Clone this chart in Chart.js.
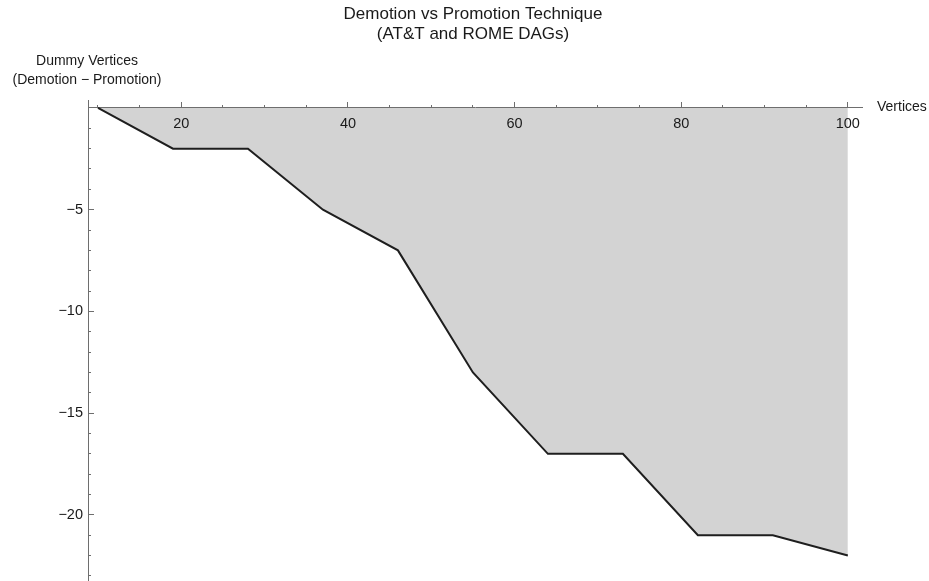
<!DOCTYPE html>
<html lang="en">
<head>
    <meta charset="UTF-8">
    <title>Demotion vs Promotion Technique</title>
    <script src="https://cdn.jsdelivr.net/npm/chart.js"></script>
    <style>
        body {
            margin: 0;
            background: white;
        }
        .chart-box {
            width: 929px;
            height: 581px;
        }
    </style>
</head>
<body>
    <div class="chart-box">
        <canvas id="plot"></canvas>
    </div>

    <script>
        // data
        const vertices = [10, 19, 28, 37, 46, 55, 64, 73, 82, 91, 100];
        const dummyDiff = [0, -2, -2, -5, -7, -13, -17, -17, -21, -21, -22];

        const xMajorTicks = [20, 40, 60, 80, 100];
        const xMinorTicks = [10, 15, 20, 25, 30, 35, 40, 45, 50, 55, 60, 65, 70, 75, 80, 85, 90, 95, 100];
        const yMajorTicks = [-5, -10, -15, -20];
        const yMinorTicks = [-1, -2, -3, -4, -5, -6, -7, -8, -9, -10, -11, -12, -13, -14, -15, -16, -17, -18, -19, -20, -21, -22, -23];

        const titleLines = ['Demotion vs Promotion Technique', '(AT&T and ROME DAGs)'];
        const yLabelLines = ['Dummy Vertices', '(Demotion \u2212 Promotion)'];
        const xLabel = 'Vertices';

        const X_MIN = 8.8, X_MAX = 101.7;
        const Y_MIN = -23.2, Y_MAX = 0.39;
        const AXIS_COLOR = '#6e6e6e';
        const TEXT_COLOR = '#1a1a1a';
        const FONT = 'Liberation Sans, Arial, sans-serif';

        const fixTicks = list => scale => {
            scale.ticks = list.map(v => ({ value: v }));
        };

        // titles and axis labels, Mathematica style
        const labelsPlugin = {
            id: 'labels',
            afterDraw(chart) {
                const ctx = chart.ctx;
                const xs = chart.scales.x;
                ctx.save();
                ctx.fillStyle = TEXT_COLOR;
                ctx.textBaseline = 'alphabetic';
                ctx.textAlign = 'center';
                ctx.font = '17px ' + FONT;
                ctx.fillText(titleLines[0], 473, 19);
                ctx.fillText(titleLines[1], 473, 39);

                ctx.font = '14px ' + FONT;
                ctx.fillText(yLabelLines[0], 87, 65);
                ctx.fillText(yLabelLines[1], 87, 84);

                ctx.textAlign = 'left';
                ctx.fillText(xLabel, xs.right + 15, 111);
                ctx.restore();
            }
        };

        new Chart(document.getElementById('plot'), {
            type: 'line',
            data: {
                datasets: [{
                    data: vertices.map((v, i) => ({ x: v, y: dummyDiff[i] })),
                    borderColor: '#1e1e1e',
                    borderWidth: 2,
                    backgroundColor: '#d3d3d3',
                    fill: 'origin',
                    pointRadius: 0,
                    tension: 0
                }]
            },
            options: {
                responsive: true,
                maintainAspectRatio: false,
                animation: false,
                layout: {
                    padding: { left: 28, right: 67, top: 100, bottom: 1 }
                },
                plugins: {
                    legend: { display: false },
                    tooltip: { enabled: false },
                    filler: { drawTime: 'beforeDraw' }
                },
                scales: {
                    x: {
                        type: 'linear',
                        min: X_MIN,
                        max: X_MAX,
                        position: { y: 0 },
                        afterBuildTicks: fixTicks(xMajorTicks),
                        grid: { drawOnChartArea: false, tickLength: -6, tickColor: AXIS_COLOR },
                        border: { color: AXIS_COLOR, width: 1 },
                        ticks: { color: TEXT_COLOR, padding: 13, maxRotation: 0, font: { family: FONT, size: 14.5 } }
                    },
                    xMinor: {
                        type: 'linear',
                        axis: 'x',
                        min: X_MIN,
                        max: X_MAX,
                        position: { y: 0 },
                        afterBuildTicks: fixTicks(xMinorTicks),
                        grid: { drawOnChartArea: false, tickLength: -3, tickColor: AXIS_COLOR },
                        border: { display: false },
                        ticks: { display: false }
                    },
                    y: {
                        type: 'linear',
                        min: Y_MIN,
                        max: Y_MAX,
                        position: 'left',
                        afterBuildTicks: fixTicks(yMajorTicks),
                        afterFit(scale) {
                            // fixed width, and no label overhang eating the plot height
                            scale.width = 60;
                            scale.paddingTop = 0;
                            scale.paddingBottom = 0;
                        },
                        grid: { drawOnChartArea: false, tickLength: -6, tickColor: AXIS_COLOR },
                        border: { color: AXIS_COLOR, width: 1 },
                        ticks: {
                            color: TEXT_COLOR,
                            padding: 11,
                            font: { family: FONT, size: 14.5 },
                            callback: v => String(v).replace('-', '\u2212')
                        }
                    },
                    yMinor: {
                        type: 'linear',
                        axis: 'y',
                        min: Y_MIN,
                        max: Y_MAX,
                        position: { x: X_MIN },
                        afterBuildTicks: fixTicks(yMinorTicks),
                        afterFit(scale) {
                            scale.paddingTop = 0;
                            scale.paddingBottom = 0;
                        },
                        grid: { drawOnChartArea: false, tickLength: -3, tickColor: AXIS_COLOR },
                        border: { display: false },
                        ticks: { display: false }
                    }
                }
            },
            plugins: [labelsPlugin]
        });
    </script>
</body>
</html>
